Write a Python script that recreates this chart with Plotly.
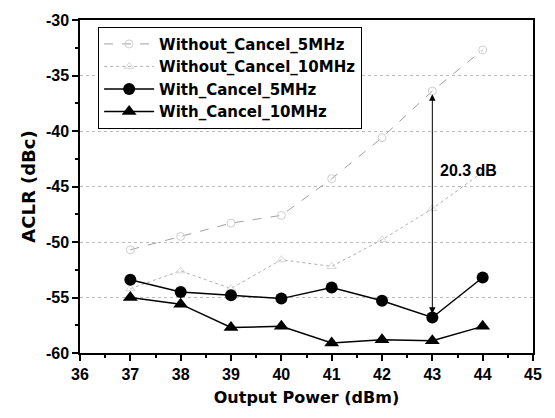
import plotly.graph_objects as go

power = [37, 38, 39, 40, 41, 42, 43, 44]
without_5 = [-50.7, -49.5, -48.3, -47.6, -44.3, -40.6, -36.4, -32.7]
without_10 = [-54.2, -52.6, -54.2, -51.6, -52.2, -49.8, -47.0, -43.7]
with_5 = [-53.4, -54.5, -54.8, -55.1, -54.1, -55.3, -56.8, -53.2]
with_10 = [-55.0, -55.6, -57.7, -57.6, -59.1, -58.8, -58.9, -57.6]
names = ["Without_Cancel_5MHz", "Without_Cancel_10MHz", "With_Cancel_5MHz", "With_Cancel_10MHz"]
x_ticks = [36, 37, 38, 39, 40, 41, 42, 43, 44, 45]
y_ticks = [-60, -55, -50, -45, -40, -35, -30]
arrow_x = 43
arrow_top = -36.7
arrow_bottom = -56.6
gap_label = "20.3 dB"

fig = go.Figure()
fig.add_trace(go.Scatter(x=power, y=without_5, name=names[0], mode="lines+markers",
                         line=dict(color="#a0a0a0", width=1, dash="dash"),
                         marker=dict(symbol="circle-open", size=8, color="#d0d0d0", line=dict(width=1))))
fig.add_trace(go.Scatter(x=power, y=without_10, name=names[1], mode="lines+markers",
                         line=dict(color="#b0b0b0", width=1, dash="dot"),
                         marker=dict(symbol="triangle-up-open", size=8, color="#d8d8d8", line=dict(width=1))))
fig.add_trace(go.Scatter(x=power, y=with_5, name=names[2], mode="lines+markers",
                         line=dict(color="black", width=1.5),
                         marker=dict(symbol="circle", size=12, color="black")))
fig.add_trace(go.Scatter(x=power, y=with_10, name=names[3], mode="lines+markers",
                         line=dict(color="black", width=1.5),
                         marker=dict(symbol="triangle-up", size=13, color="black")))

fig.add_annotation(x=arrow_x, y=arrow_top, ax=arrow_x, ay=arrow_bottom, xref="x", yref="y",
                   axref="x", ayref="y", text="", showarrow=True, arrowhead=2, arrowside="end+start",
                   arrowsize=1.3, arrowwidth=1, arrowcolor="black")
fig.add_annotation(x=43.12, y=-43.6, xref="x", yref="y", text="<b>" + gap_label + "</b>", showarrow=False,
                   xanchor="left", font=dict(family="Liberation Sans", size=16, color="black"))

tick_font = dict(family="Liberation Sans", size=16, color="black")
title_font = dict(family="DejaVu Sans", size=16, color="black")
fig.update_layout(
    width=555, height=418,
    margin=dict(l=80, r=22, t=15, b=65),
    paper_bgcolor="white", plot_bgcolor="white",
    font=dict(family="Liberation Sans", color="black"),
    showlegend=True,
    legend=dict(x=0.04, y=0.98, xanchor="left", yanchor="top", bgcolor="white",
                bordercolor="black", borderwidth=1,
                font=dict(size=15, family="DejaVu Sans", weight=700, color="black"),
                itemwidth=50, tracegroupgap=0, traceorder="normal"),
    xaxis=dict(range=[36, 45], tickvals=x_ticks, ticktext=["<b>%d</b>" % v for v in x_ticks],
               showgrid=False, showline=True, linecolor="black",
               linewidth=1.5, mirror=True, ticks="outside", ticklen=6, tickwidth=1.5, tickcolor="black",
               tickfont=tick_font, zeroline=False,
               minor=dict(dtick=0.5, ticks="outside", ticklen=3, tickcolor="black", showgrid=False),
               title=dict(text="<b>Output Power (dBm)</b>", font=title_font, standoff=10)),
    yaxis=dict(range=[-60, -30], tickvals=y_ticks, ticktext=["<b>%d</b>" % v for v in y_ticks],
               showgrid=True, gridcolor="#bbbbbb", griddash="dot",
               gridwidth=1, showline=True, linecolor="black", linewidth=1.5, mirror=True, ticks="outside",
               ticklen=6, tickwidth=1.5, tickcolor="black", tickfont=tick_font, zeroline=False,
               minor=dict(tickvals=[-57.5, -52.5, -47.5, -42.5, -37.5, -32.5], ticks="outside", ticklen=3,
                          tickcolor="black", showgrid=False),
               title=dict(text="<b>ACLR (dBc)</b>", font=dict(family="DejaVu Sans", size=18, color="black"),
                          standoff=6)),
)
fig.write_html("out.html")
